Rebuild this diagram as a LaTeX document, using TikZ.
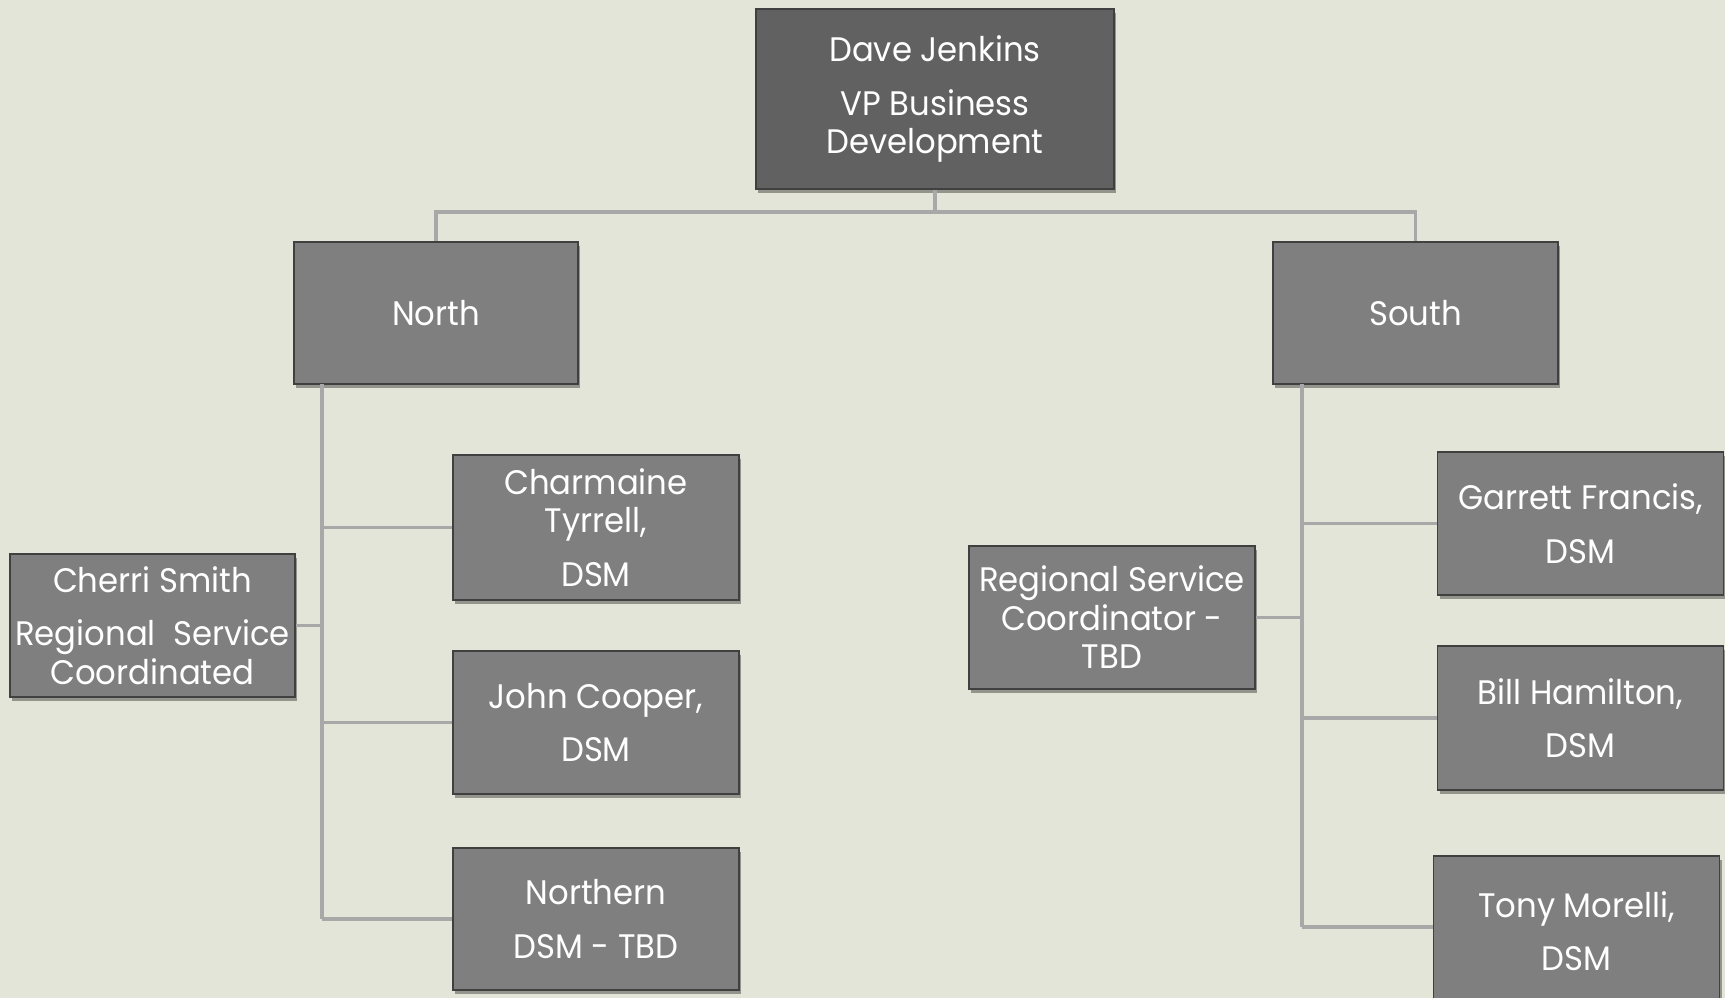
\documentclass[tikz,border=0pt]{standalone}
\usepackage{fontspec}
\setmainfont{Poppins}[FakeStretch=0.95]
\usetikzlibrary{shadows}
\definecolor{bgcol}{HTML}{E3E5D9}
\definecolor{boxfill}{HTML}{7F7F7F}
\definecolor{topfill}{HTML}{616161}
\definecolor{boxline}{HTML}{404040}
\definecolor{linkcol}{HTML}{A8A8A8}
\tikzset{
  orgbox/.style={draw=boxline, line width=1.2pt, fill=boxfill, text=white,
    minimum width=286pt, minimum height=143pt, inner sep=0pt, align=center,
    font=\fontsize{34}{38.5}\selectfont,
    general shadow={fill=black, opacity=0.35, shadow xshift=2pt, shadow yshift=-4pt}},
  link/.style={draw=linkcol, line width=3.2pt},
}
\begin{document}
\begin{tikzpicture}[x=1pt,y=-1pt]
\fill[bgcol] (0,0) rectangle (1725,998);
\useasboundingbox (0,0) rectangle (1725,998);
\clip (0,0) rectangle (1725,998);
\coordinate (hbar) at (935,212);
\coordinate (nTop) at (322,384);
\coordinate (nBot) at (322,919);
\coordinate (sTop) at (1302,384);
\coordinate (sBot) at (1302,927);
% nodes
\node[orgbox, fill=topfill, minimum width=358pt, minimum height=180pt] (top) at (935,99)
  {Dave Jenkins\\[15pt]VP Business\\Development};
\node[orgbox, minimum width=284pt, minimum height=142pt] (north) at (436,313) {North};
\node[orgbox, minimum width=285pt, minimum height=142pt] (south) at (1415.5,313) {South};
\node[orgbox, minimum height=145pt] (charm) at (596,527.5) {Charmaine\\Tyrrell,\\[15pt]DSM};
\node[orgbox, minimum width=285pt] (cherri) at (152.5,625.5) {Cherri Smith\\[15pt]Regional\ \ Service\\Coordinated};
\node[orgbox] (john) at (596,722.5) {John Cooper,\\[15pt]DSM};
\node[orgbox, minimum height=142pt] (northern) at (596,919) {Northern\\[15pt]DSM - TBD};
\node[orgbox] (rsc) at (1112,617.5) {Regional Service\\Coordinator -\\TBD};
\node[orgbox, minimum height=143pt] (garrett) at (1580.5,523.5) {Garrett Francis,\\[15pt]DSM};
\node[orgbox, minimum height=144pt] (bill) at (1580.5,718) {Bill Hamilton,\\[15pt]DSM};
\node[orgbox, minimum height=150pt] (tony) at (1576.5,931) {Tony Morelli,\\[15pt]DSM};
% connectors
\path[link] (top.south) -- (top.south |- hbar);
\path[link] (north.north) -- (north.north |- hbar) -- (south.north |- hbar) -- (south.north);
\path[link] (nTop) -- (nBot);
\path[link] (nTop |- charm.west) -- (charm.west);
\path[link] (cherri.east) -- (nTop |- cherri.east);
\path[link] (nTop |- john.west) -- (john.west);
\path[link] (nBot) -- (northern.west);
\path[link] (sTop) -- (sBot);
\path[link] (rsc.east) -- (sTop |- rsc.east);
\path[link] (sTop |- garrett.west) -- (garrett.west);
\path[link] (sTop |- bill.west) -- (bill.west);
\path[link] (sBot) -- (tony.west |- sBot);
\end{tikzpicture}
\end{document}
